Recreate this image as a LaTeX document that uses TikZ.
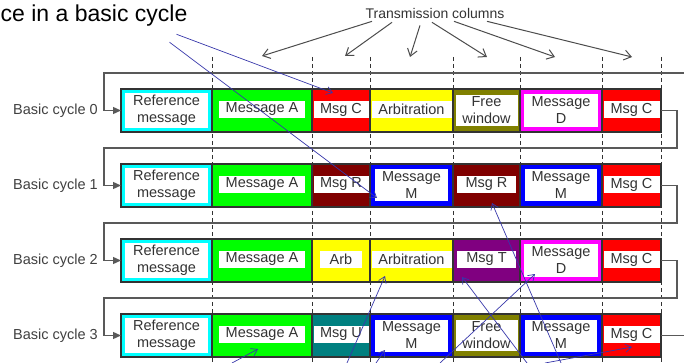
\documentclass[tikz,border=0pt]{standalone}
\usepackage{fontspec}
\setmainfont{Liberation Sans}
\usetikzlibrary{arrows.meta,calc}

\definecolor{msgcyan}{RGB}{0,255,255}
\definecolor{msggreen}{RGB}{0,255,0}
\definecolor{msgred}{RGB}{255,0,0}
\definecolor{msgyellow}{RGB}{255,255,0}
\definecolor{msgmagenta}{RGB}{255,0,255}
\definecolor{msgblue}{RGB}{0,0,255}
\definecolor{msgmaroon}{RGB}{128,0,0}
\definecolor{msgpurple}{RGB}{128,0,128}
\definecolor{msgteal}{RGB}{0,128,128}
\definecolor{msgolive}{RGB}{128,128,0}
\definecolor{ptrblue}{RGB}{55,55,170}

\tikzset{
  cellline/.style={draw=black!80, line width=1.1pt},
  lbl/.style={inner sep=0pt, text=black!80, align=center, font=\fontsize{14.5}{17}\selectfont},
  loopline/.style={draw=black!65, line width=1.3pt},
  colline/.style={draw=black!80, line width=0.9pt, dash pattern=on 4pt off 3pt},
  pointer/.style={draw=ptrblue, line width=0.7pt, -{Straight Barb[length=6pt,width=8pt]}},
  tcarrow/.style={draw=black!70, line width=1pt, -{Straight Barb[length=7pt,width=10pt]}},
}

% cell with coloured frame and white inside: name(x0,x1,top)[colour/side/topbottom]{text}
\def\framecell#1(#2,#3,#4)[#5/#6/#7]#8{%
  \fill[#5] (#2,#4) rectangle (#3,#4+43);
  \fill[white] (#2+#6,#4+#7) rectangle (#3-#6,#4+43-#7);
  \draw[cellline] (#2,#4) rectangle (#3,#4+43);
  \node[lbl] (#1) at ({(#2+#3)/2},#4+21.5) {#8};}
% cell with a white band over its full width
\def\bandcell#1(#2,#3,#4)[#5]#6{%
  \fill[#5] (#2,#4) rectangle (#3,#4+43);
  \fill[white] (#2+1.5,#4+12) rectangle (#3-1.5,#4+29);
  \draw[cellline] (#2,#4) rectangle (#3,#4+43);
  \node[lbl] (#1) at ({(#2+#3)/2},#4+20.5) {#6};}
% cell with a white label box set in by #6
\def\boxcell#1(#2,#3,#4)[#5/#6]#7{%
  \fill[#5] (#2,#4) rectangle (#3,#4+43);
  \fill[white] (#2+#6,#4+12) rectangle (#3-#6,#4+29);
  \draw[cellline] (#2,#4) rectangle (#3,#4+43);
  \node[lbl] (#1) at ({(#2+#3)/2},#4+20.5) {#7};}

\begin{document}
\begin{tikzpicture}[x=1pt, y=-1pt]
  \useasboundingbox (0,0) rectangle (684,363);

  %%%%% titles %%%%%
  \node[inner sep=0pt, anchor=base west, text=black, font=\fontsize{23}{27}\selectfont] (title) at (0.5,21.7) {ce in a basic cycle};
  \node[inner sep=0pt, anchor=base, text=black!80, font=\fontsize{14}{16}\selectfont] (tc) at (435,19) {Transmission columns};

  %%%%% transmission columns %%%%%
  \draw[colline] (212,57) -- (212,363) (312,57) -- (312,363) (370,57) -- (370,363)
                 (453,57) -- (453,363) (520,57) -- (520,363) (602,57) -- (602,363)
                 (661,57) -- (661,363);

  \coordinate (col1) at (262,56);
  \coordinate (col2) at (345,56);
  \coordinate (col3) at (410,57);
  \coordinate (col4) at (487,57);
  \coordinate (col5) at (555,57);
  \coordinate (col6) at (632,57);
  \draw[tcarrow] ($(tc.south)+(-63,2)$) -- (col1);
  \draw[tcarrow] ($(tc.south)+(-43,3)$) -- (col2);
  \draw[tcarrow] ($(tc.south)+(-15,6)$) -- (col3);
  \draw[tcarrow] ($(tc.south)+(-3,3)$) -- (col4);
  \draw[tcarrow] ($(tc.south)+(19,2)$) -- (col5);
  \draw[tcarrow] ($(tc.south)+(52,2)$) -- (col6);

  %%%%% basic cycle 0 %%%%%
  \framecell{ref0}(121,212,89)[msgcyan/4/4]{Reference\\message}
  \boxcell{msgA0}(212,312,89)[msggreen/7]{Message A}
  \bandcell{msgC0a}(312,370,89)[msgred]{Msg C}
  \bandcell{arb0}(370,453,89)[msgyellow]{Arbitration}
  \framecell{free0}(453,520,89)[msgolive/2.5/6]{Free\\window}
  \framecell{msgD0}(520,602,89)[msgmagenta/4/5]{Message\\D}
  \bandcell{msgC0b}(602,661,89)[msgred]{Msg C}

  %%%%% basic cycle 1 %%%%%
  \framecell{ref1}(121,212,164)[msgcyan/4/4]{Reference\\message}
  \boxcell{msgA1}(212,312,164)[msggreen/7]{Message A}
  \bandcell{msgR1a}(312,370,164)[msgmaroon]{Msg R}
  \framecell{msgM1a}(370,453,164)[msgblue/5/5.5]{Message\\M}
  \boxcell{msgR1b}(453,520,164)[msgmaroon/4]{Msg R}
  \framecell{msgM1b}(520,602,164)[msgblue/5/5.5]{Message\\M}
  \bandcell{msgC1}(602,661,164)[msgred]{Msg C}

  %%%%% basic cycle 2 %%%%%
  \framecell{ref2}(121,212,239)[msgcyan/4/4]{Reference\\message}
  \boxcell{msgA2}(212,312,239)[msggreen/7]{Message A}
  \boxcell{arb2a}(312,370,239)[msgyellow/8]{Arb}
  \bandcell{arb2b}(370,453,239)[msgyellow]{Arbitration}
  \boxcell{msgT2}(453,520,239)[msgpurple/4]{Msg T}
  \framecell{msgD2}(520,602,239)[msgmagenta/4/5]{Message\\D}
  \bandcell{msgC2}(602,661,239)[msgred]{Msg C}

  %%%%% basic cycle 3 %%%%%
  \framecell{ref3}(121,212,314)[msgcyan/4/4]{Reference\\message}
  \boxcell{msgA3}(212,312,314)[msggreen/7]{Message A}
  \bandcell{msgU3}(312,370,314)[msgteal]{Msg U}
  \framecell{msgM3a}(370,453,314)[msgblue/5/5.5]{Message\\M}
  \framecell{free3}(453,520,314)[msgolive/2.5/6]{Free\\window}
  \framecell{msgM3b}(520,602,314)[msgblue/5/5.5]{Message\\M}
  \bandcell{msgC3}(602,661,314)[msgred]{Msg C}

  %%%%% cycle labels and loops %%%%%
  \node[lbl, anchor=east, text=black!75] (bc0) at (98,111) {Basic cycle 0};
  \node[lbl, anchor=east, text=black!75] (bc1) at (98,186) {Basic cycle 1};
  \node[lbl, anchor=east, text=black!75] (bc2) at (98,261) {Basic cycle 2};
  \node[lbl, anchor=east, text=black!75] (bc3) at (98,336) {Basic cycle 3};

  \coordinate (in0) at (121,110.5);
  \coordinate (in1) at (121,185.5);
  \coordinate (in2) at (121,260.5);
  \coordinate (in3) at (121,335.5);
  \coordinate (out0) at (661,110.5);
  \coordinate (out1) at (661,185.5);
  \coordinate (out2) at (661,260.5);
  \coordinate (out3) at (661,335.5);

  \draw[loopline, -{Triangle[length=8pt,width=7pt]}] (684,73) -| (104,110.5) -- (in0);
  \draw[loopline, -{Triangle[length=8pt,width=7pt]}] (out0) -| (677,148) -| (104,185.5) -- (in1);
  \draw[loopline, -{Triangle[length=8pt,width=7pt]}] (out1) -| (677,223) -| (104,260.5) -- (in2);
  \draw[loopline, -{Triangle[length=8pt,width=7pt]}] (out2) -| (677,298) -| (104,335.5) -- (in3);
  \draw[loopline] (out3) -- (684,335.5);

  %%%%% pointers %%%%%
  \coordinate (hitC0) at (333,93);
  \coordinate (hitM1) at (377,198);
  \coordinate (hitA3) at (258,349);
  \coordinate (hitArb2) at (385,276);
  \coordinate (hitM3) at (385,350);
  \coordinate (hitD2) at (535,274);
  \coordinate (hitR1) at (492,203);
  \coordinate (hitT2) at (462,277);
  \coordinate (hitC3) at (632,347);

  \draw[pointer] ($(title.south east)+(-11,7.6)$) -- (hitC0);
  \draw[pointer] ($(title.south east)+(-18,15.6)$) -- (hitM1);
  \draw[pointer] (232,363) -- (hitA3);
  \draw[pointer] (347,363) -- (hitArb2);
  \draw[pointer] (376,363) -- (hitM3);
  \draw[pointer] (440,363) -- (hitD2);
  \draw[pointer] (561,363) -- (hitR1);
  \draw[pointer] (527,363) -- (hitT2);
  \draw[pointer] (545,363) -- (hitC3);
\end{tikzpicture}
\end{document}
